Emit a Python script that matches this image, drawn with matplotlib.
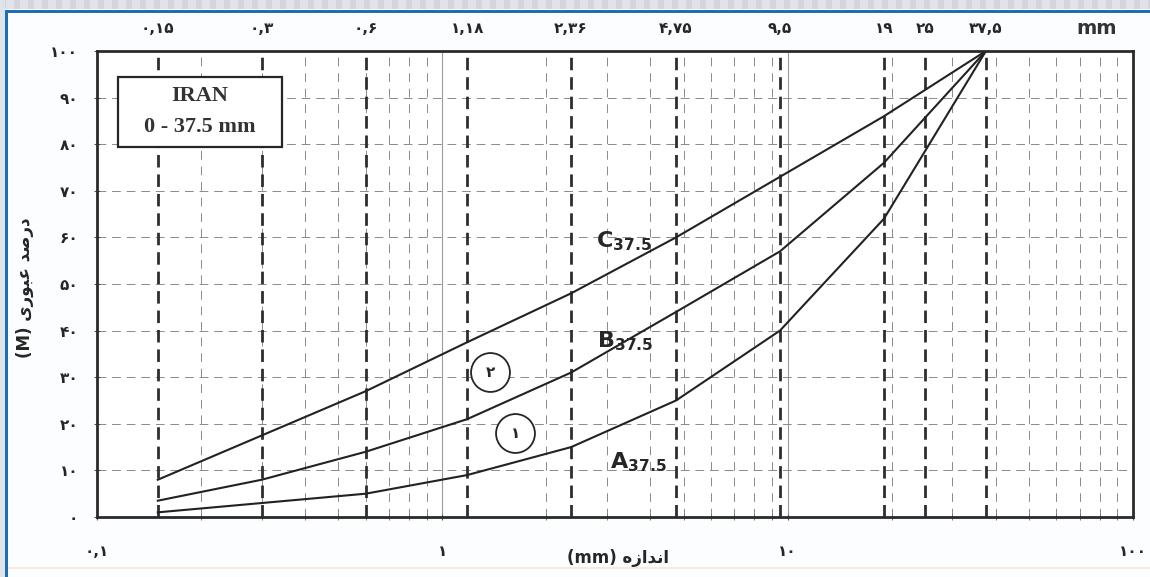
import matplotlib
matplotlib.use("Agg")
import matplotlib.pyplot as plt
from matplotlib.patches import Rectangle
from matplotlib.ticker import NullFormatter, FixedLocator

# grading curves for 0 - 37.5 mm aggregate (percent passing)
curve_sizes = [0.15, 0.3, 0.6, 1.18, 2.36, 4.75, 9.5, 19, 37.5]
passing_a = [1, 3, 5, 9, 15, 25, 40, 64, 100]
passing_b = [3.5, 8, 14, 21, 31, 44, 57, 76, 100]
passing_c = [8, 17.5, 27, 37.5, 48, 60, 73, 86, 100]

# standard sieve openings (heavy dashed lines) and their labels
sieve_sizes = [0.15, 0.3, 0.6, 1.18, 2.36, 4.75, 9.5, 19, 25, 37.5]
sieve_labels = ['۰,۱۵', '۰,۳', '۰,۶', '۱,۱۸', '۲,۳۶', '۴,۷۵', '۹,۵', '۱۹', '۲۵', '۳۷,۵']

y_ticks = [0, 10, 20, 30, 40, 50, 60, 70, 80, 90, 100]
y_labels = ['۰', '۱۰', '۲۰', '۳۰', '۴۰', '۵۰', '۶۰', '۷۰', '۸۰', '۹۰', '۱۰۰']
x_ticks = [0.1, 1, 10, 100]
x_labels = ['۰,۱', '۱', '۱۰', '۱۰۰']

ink = '#262626'
W, H = 1150, 577

fig = plt.figure(figsize=(W / 100, H / 100), dpi=100)
fig.patch.set_facecolor('#fcfdfe')

# slide frame: striped top band, blue border lines
fig.add_artist(Rectangle((0, 1 - 9 / H), 1, 9 / H, transform=fig.transFigure,
                         color='#e2e3ea', lw=0))
for px in range(0, W, 14):
    fig.add_artist(Rectangle((px / W, 1 - 9 / H), 6 / W, 9 / H, transform=fig.transFigure,
                             color='#d2d4de', lw=0))
fig.add_artist(Rectangle((0, 0), 5 / W, 1, transform=fig.transFigure, color='#dfe4ea', lw=0))
fig.add_artist(Rectangle((5 / W, 1 - 13 / H), 1, 3 / H, transform=fig.transFigure,
                         color='#1f6db2', lw=0))
fig.add_artist(Rectangle((5 / W, 0), 3 / W, 1 - 10 / H, transform=fig.transFigure,
                         color='#1f6db2', lw=0))
fig.add_artist(Rectangle((8 / W, 8 / H), 1, 2 / H, transform=fig.transFigure,
                         color='#fbe9d8', lw=0))

ax = fig.add_axes([97 / W, 1 - 517 / H, (1133 - 97) / W, (517 - 51) / H])
ax.set_facecolor('white')
ax.set_xscale('log')
ax.set_xlim(0.1, 100)
ax.set_ylim(0, 100)

# light dashed grid on the log minor positions and every 10 percent
for dec in [0.1, 1, 10]:
    for m in range(2, 10):
        ax.axvline(dec * m, color='#8a8a8a', lw=0.7, dashes=(9, 7), zorder=1)
for dec in [1, 10]:
    ax.axvline(dec, color='#9a9a9a', lw=0.8, zorder=1)
for v in y_ticks[1:-1]:
    ax.axhline(v, color='#8a8a8a', lw=0.7, dashes=(9, 6), zorder=1)

# heavy dashed lines at the sieve sizes
for s, lab in zip(sieve_sizes, sieve_labels):
    ax.axvline(s, color='#2e2e2e', lw=2.0, dashes=(4.5, 2.5), zorder=2)
    ax.text(s, 1.049, lab, transform=ax.get_xaxis_transform(), ha='center', va='center',
            fontsize=11, fontweight='bold', color=ink)

for vals in (passing_a, passing_b, passing_c):
    ax.plot(curve_sizes, vals, color='#222222', lw=1.5, zorder=4)

# curve names
ax.text(2.79, 57.9, r'$\mathbf{C}_{\mathbf{37.5}}$', fontsize=16, color=ink,
        ha='left', va='baseline', zorder=5)
ax.text(2.81, 36.4, r'$\mathbf{B}_{\mathbf{37.5}}$', fontsize=16, color=ink,
        ha='left', va='baseline', zorder=5)
ax.text(3.05, 10.5, r'$\mathbf{A}_{\mathbf{37.5}}$', fontsize=16, color=ink,
        ha='left', va='baseline', zorder=5)

# zone numbers in circles
for xz, yz, lab in [(1.377, 31.1, '۲'), (1.628, 18.0, '۱')]:
    ax.plot([xz], [yz], 'o', ms=28, mfc='white', mec=ink, mew=1.3, zorder=5)
    ax.text(xz, yz, lab, ha='center', va='center', fontsize=11, fontweight='bold',
            color=ink, zorder=6)

# title box
ax.add_patch(Rectangle((0.0203, 0.794), 0.158, 0.150, transform=ax.transAxes,
                       facecolor='white', edgecolor=ink, lw=1.6, zorder=6))
ax.text(0.0994, 0.903, 'IRAN', transform=ax.transAxes, ha='center', va='center',
        family='Liberation Serif', fontweight='bold', fontsize=16, color='#333333', zorder=7)
ax.text(0.0994, 0.837, '0 - 37.5 mm', transform=ax.transAxes, ha='center', va='center',
        family='Liberation Serif', fontweight='bold', fontsize=16, color='#333333', zorder=7)

for sp in ax.spines.values():
    sp.set_linewidth(2.0)
    sp.set_color('#2a2a2a')
    sp.set_zorder(8)

ax.set_yticks(y_ticks)
ax.set_yticklabels(y_labels, fontsize=11, fontweight='bold', color=ink)
ax.xaxis.set_major_locator(FixedLocator(x_ticks))
ax.set_xticklabels(x_labels, fontsize=11, fontweight='bold', color=ink)
ax.xaxis.set_minor_formatter(NullFormatter())
ax.tick_params(axis='y', length=5, direction='inout', pad=11, color='#555555')
ax.tick_params(axis='x', which='major', length=5, direction='inout', pad=17, color='#555555')
ax.tick_params(axis='x', which='minor', length=4, direction='inout', color='#666666')

# axis titles (Persian, in presentation forms, visual order)
fig.text(1097 / W, 1 - 28 / H, 'mm', ha='center', va='center', fontsize=14,
         fontweight='bold', color='#333333')
fig.text(25 / W, 1 - 288 / H, '(M) ﻯﺭﻮﺒﻋ ﺪﺻﺭﺩ', rotation=90, ha='center', va='center',
         fontsize=12, fontweight='bold', color=ink)
fig.text(618 / W, 1 - 558 / H, '(mm) ﻩﺯﺍﺪﻧﺍ', ha='center', va='center', fontsize=12,
         fontweight='bold', color=ink)

fig.savefig('out.png', dpi=100, facecolor=fig.get_facecolor())
